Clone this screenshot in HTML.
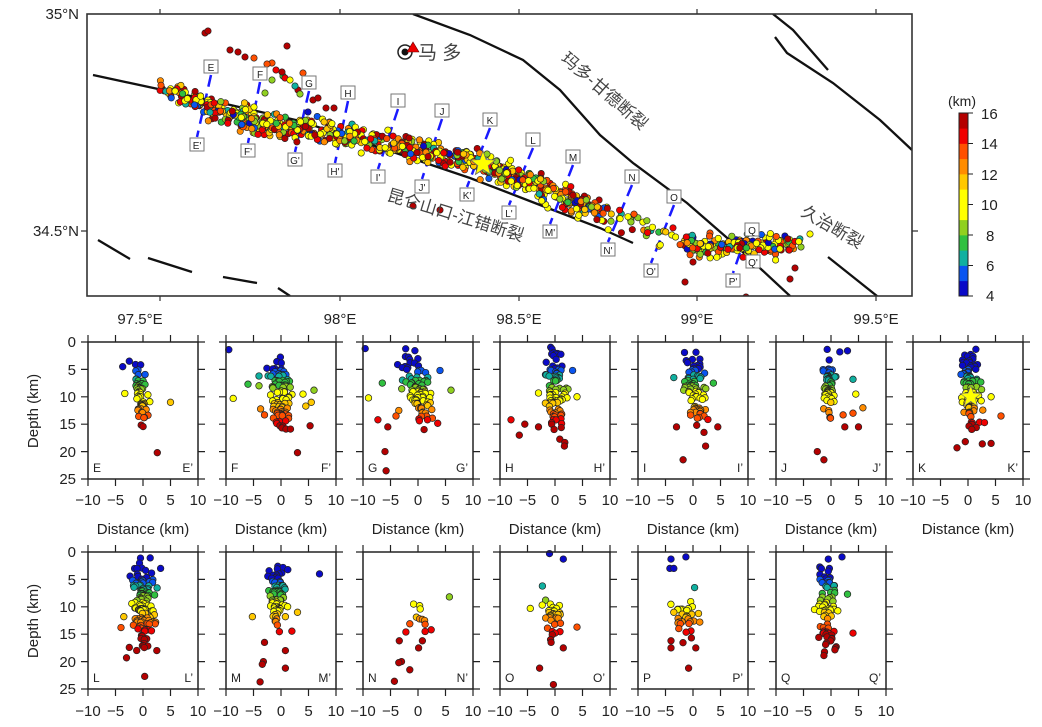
<!DOCTYPE html>
<html><head><meta charset="utf-8">
<style>
html,body{margin:0;padding:0;background:#fff;}
svg{display:block;}
text{font-family:"Liberation Sans","Noto Sans CJK SC",sans-serif;fill:#222;}
.tl{font-size:15px;}
.cn{font-size:17px;fill:#444;font-family:"Liberation Sans","Noto Sans CJK SC",sans-serif;}
.pl{font-size:12px;font-family:"Liberation Serif",serif;fill:#333;}
.bx{font-size:10px;fill:#555;}
</style></head>
<body>
<svg id="s" width="1042" height="727" viewBox="0 0 1042 727" xmlns="http://www.w3.org/2000/svg">
<defs><clipPath id="mapclip"><rect x="87" y="14" width="825" height="282"/></clipPath></defs>
<rect width="1042" height="727" fill="#fff"/>
<g id="map" clip-path="url(#mapclip)">
  <g fill="none" stroke="#111" stroke-width="2.3">
    <path d="M93,75 L200,98 L300,121 L390,151 L470,178 L540,205 L600,228 L633,243"/>
    <path d="M413,14 L470,35 L523,60 L560,90 L600,135 L633,163 L687,203 L733,243 L790,296"/>
    <path d="M773,14 L793,30 L828,70"/>
    <path d="M775,37 L787,53 L833,83 L880,120 L912,150"/>
    <path d="M828,257 L877,296"/>
    <path d="M98,240 L130,259 M148,258 L192,272 M223,277 L257,283 M278,288 L290,296"/>
  </g>
  <g id="profiles" stroke="#1a1aff" stroke-width="2.5" stroke-dasharray="12,7" fill="none"></g>
  <g id="mapdots"></g>
  <polygon id="bigstar" fill="#ffff00" stroke="#666" stroke-width="0.8"/>
  <g id="boxes" fill="#fff" stroke="#777" stroke-width="1"></g>
  <g class="bx" text-anchor="middle">
    <text x="211" y="71">E</text><text x="197" y="149">E'</text>
    <text x="260" y="78">F</text><text x="248" y="155">F'</text>
    <text x="309" y="87">G</text><text x="295" y="164">G'</text>
    <text x="348" y="97">H</text><text x="335" y="175">H'</text>
    <text x="398" y="105">I</text><text x="378" y="181">I'</text>
    <text x="442" y="115">J</text><text x="422" y="191">J'</text>
    <text x="490" y="124">K</text><text x="467" y="199">K'</text>
    <text x="533" y="144">L</text><text x="509" y="217">L'</text>
    <text x="573" y="161">M</text><text x="550" y="236">M'</text>
    <text x="632" y="181">N</text><text x="608" y="254">N'</text>
    <text x="674" y="201">O</text><text x="651" y="275">O'</text>
    <text x="752" y="234">Q</text><text x="753" y="266">Q'</text>
    <text x="733" y="285">P'</text>
  </g>
  <circle cx="405" cy="52" r="7" fill="#fff" stroke="#222" stroke-width="1.5"/>
  <circle cx="405" cy="52" r="3.5" fill="#111"/>
  <polygon points="413,42 419,52 407,52" fill="#e00" stroke="#600" stroke-width="0.6"/>
  <text class="cn" x="418" y="59" style="font-size:19px">马 多</text>
  <text class="cn" transform="translate(560,60) rotate(41)">玛多-甘德断裂</text>
  <text class="cn" transform="translate(386,200) rotate(17)">昆仑山口-江错断裂</text>
  <text class="cn" transform="translate(800,215) rotate(30)">久治断裂</text>
</g>
<rect x="87" y="14" width="825" height="282" fill="none" stroke="#333" stroke-width="1.6"/>
<g stroke="#333" stroke-width="1.2">
  <path d="M160,14 v-5 M340,14 v-5 M519,14 v-5 M697,14 v-5 M876,14 v-5"/>
  <path d="M160,296 v5 M340,296 v5 M519,296 v5 M697,296 v5 M876,296 v5"/>
  <path d="M87,231 h-6 M912,231 h6"/>
</g>
<g class="tl" text-anchor="middle">
  <text x="140" y="324">97.5°E</text><text x="340" y="324">98°E</text>
  <text x="519" y="324">98.5°E</text><text x="697" y="324">99°E</text><text x="876" y="324">99.5°E</text>
</g>
<g class="tl" text-anchor="end">
  <text x="79" y="19">35°N</text><text x="79" y="236">34.5°N</text>
</g>
<g id="cbar"></g>
<text class="tl" x="962" y="106" text-anchor="middle" style="font-size:14px">(km)</text>
<g class="tl" text-anchor="start">
  <text x="981" y="119">16</text><text x="981" y="149">14</text><text x="981" y="180">12</text>
  <text x="981" y="210">10</text><text x="986" y="241">8</text><text x="986" y="271">6</text><text x="986" y="301">4</text>
</g>

<g id="panels"></g>

<g class="tl" text-anchor="end">
  <text x="76" y="347">0</text><text x="76" y="375">5</text><text x="76" y="402">10</text>
  <text x="76" y="429">15</text><text x="76" y="457">20</text><text x="76" y="484">25</text>
  <text x="76" y="557">0</text><text x="76" y="585">5</text><text x="76" y="612">10</text>
  <text x="76" y="639">15</text><text x="76" y="667">20</text><text x="76" y="694">25</text>
</g>
<text class="tl" transform="translate(38,411) rotate(-90)" text-anchor="middle">Depth (km)</text>
<text class="tl" transform="translate(38,621) rotate(-90)" text-anchor="middle">Depth (km)</text>

<g class="tl" text-anchor="middle">
 <g transform="translate(88,0)"><text x="0" y="505">−10</text><text x="27.5" y="505">−5</text><text x="55" y="505">0</text><text x="82.5" y="505">5</text><text x="110" y="505">10</text><text x="55" y="534">Distance (km)</text></g>
 <g transform="translate(226,0)"><text x="0" y="505">−10</text><text x="27.5" y="505">−5</text><text x="55" y="505">0</text><text x="82.5" y="505">5</text><text x="110" y="505">10</text><text x="55" y="534">Distance (km)</text></g>
 <g transform="translate(363,0)"><text x="0" y="505">−10</text><text x="27.5" y="505">−5</text><text x="55" y="505">0</text><text x="82.5" y="505">5</text><text x="110" y="505">10</text><text x="55" y="534">Distance (km)</text></g>
 <g transform="translate(500,0)"><text x="0" y="505">−10</text><text x="27.5" y="505">−5</text><text x="55" y="505">0</text><text x="82.5" y="505">5</text><text x="110" y="505">10</text><text x="55" y="534">Distance (km)</text></g>
 <g transform="translate(638,0)"><text x="0" y="505">−10</text><text x="27.5" y="505">−5</text><text x="55" y="505">0</text><text x="82.5" y="505">5</text><text x="110" y="505">10</text><text x="55" y="534">Distance (km)</text></g>
 <g transform="translate(776,0)"><text x="0" y="505">−10</text><text x="27.5" y="505">−5</text><text x="55" y="505">0</text><text x="82.5" y="505">5</text><text x="110" y="505">10</text><text x="55" y="534">Distance (km)</text></g>
 <g transform="translate(913,0)"><text x="0" y="505">−10</text><text x="27.5" y="505">−5</text><text x="55" y="505">0</text><text x="82.5" y="505">5</text><text x="110" y="505">10</text><text x="55" y="534">Distance (km)</text></g>
 <g transform="translate(88,0)"><text x="0" y="716">−10</text><text x="27.5" y="716">−5</text><text x="55" y="716">0</text><text x="82.5" y="716">5</text><text x="110" y="716">10</text></g>
 <g transform="translate(226,0)"><text x="0" y="716">−10</text><text x="27.5" y="716">−5</text><text x="55" y="716">0</text><text x="82.5" y="716">5</text><text x="110" y="716">10</text></g>
 <g transform="translate(363,0)"><text x="0" y="716">−10</text><text x="27.5" y="716">−5</text><text x="55" y="716">0</text><text x="82.5" y="716">5</text><text x="110" y="716">10</text></g>
 <g transform="translate(500,0)"><text x="0" y="716">−10</text><text x="27.5" y="716">−5</text><text x="55" y="716">0</text><text x="82.5" y="716">5</text><text x="110" y="716">10</text></g>
 <g transform="translate(638,0)"><text x="0" y="716">−10</text><text x="27.5" y="716">−5</text><text x="55" y="716">0</text><text x="82.5" y="716">5</text><text x="110" y="716">10</text></g>
 <g transform="translate(776,0)"><text x="0" y="716">−10</text><text x="27.5" y="716">−5</text><text x="55" y="716">0</text><text x="82.5" y="716">5</text><text x="110" y="716">10</text></g>
</g>

<g class="pl">
 <text x="93" y="472">E</text><text x="193" y="472" text-anchor="end">E’</text>
 <text x="231" y="472">F</text><text x="331" y="472" text-anchor="end">F’</text>
 <text x="368" y="472">G</text><text x="468" y="472" text-anchor="end">G’</text>
 <text x="505" y="472">H</text><text x="605" y="472" text-anchor="end">H’</text>
 <text x="643" y="472">I</text><text x="743" y="472" text-anchor="end">I’</text>
 <text x="781" y="472">J</text><text x="881" y="472" text-anchor="end">J’</text>
 <text x="918" y="472">K</text><text x="1018" y="472" text-anchor="end">K’</text>
 <text x="93" y="682">L</text><text x="193" y="682" text-anchor="end">L’</text>
 <text x="231" y="682">M</text><text x="331" y="682" text-anchor="end">M’</text>
 <text x="368" y="682">N</text><text x="468" y="682" text-anchor="end">N’</text>
 <text x="505" y="682">O</text><text x="605" y="682" text-anchor="end">O’</text>
 <text x="643" y="682">P</text><text x="743" y="682" text-anchor="end">P’</text>
 <text x="781" y="682">Q</text><text x="881" y="682" text-anchor="end">Q’</text>
</g>
</svg>
<script>
(function(){
var NS="http://www.w3.org/2000/svg";
function el(t,a,p){var e=document.createElementNS(NS,t);for(var k in a)e.setAttribute(k,a[k]);p.appendChild(e);return e;}
var seed=12345;function rnd(){seed|=0;seed=seed+0x6D2B79F5|0;var t=Math.imul(seed^seed>>>15,1|seed);t=t+Math.imul(t^t>>>7,61|t)^t;return((t^t>>>14)>>>0)/4294967296;}
function gau(){return (rnd()+rnd()+rnd()+rnd()-2)*1.7;}
var pal=["#0a0ac8","#0a55f0","#10b0a0","#30c040","#90d020","#ffff00","#ffff00","#ffc800","#ff8c00","#ff5000","#f00000","#b40000"];
function col(d){var i=Math.floor(d-4);if(i<0)i=0;if(i>11)i=11;return pal[i];}
var cb=document.getElementById("cbar");
for(var i=0;i<12;i++){el("rect",{x:959,y:(296-(i+1)*15.25).toFixed(2),width:9,height:15.6,fill:pal[i]},cb);}
el("rect",{x:959,y:113,width:9,height:183,fill:"none",stroke:"#222","stroke-width":1},cb);
for(var v=4;v<=16;v+=2){var y=296-(v-4)*15.25;el("line",{x1:968,x2:973,y1:y,y2:y,stroke:"#222"},cb);}
var prof=[[211,67,197,145],[260,74,248,151],[309,83,295,160],[348,93,335,171],[398,101,378,177],[442,111,422,187],[490,120,467,195],[533,140,509,213],[573,157,550,232],[632,177,608,250],[674,197,651,271],[752,230,753,262],[740,245,733,281]];
var pg=document.getElementById("profiles"),bg=document.getElementById("boxes");
prof.forEach(function(p){el("line",{x1:p[0],y1:p[1]+8,x2:p[2],y2:p[3]-8},pg);});
[[211,67],[197,145],[260,74],[248,151],[309,83],[295,160],[348,93],[335,171],[398,101],[378,177],[442,111],[422,187],[490,120],[467,195],[533,140],[509,213],[573,157],[550,232],[632,177],[608,250],[674,197],[651,271],[752,230],[753,262],[733,281]].forEach(function(b){el("rect",{x:b[0]-7,y:b[1]-7,width:14,height:13},bg);});
var md=document.getElementById("mapdots");
var cl=[[150,82],[162,86],[215,110],[290,127],[370,140],[450,156],[483,165],[520,178],[560,195],[600,210],[640,222],[670,238],[700,248],[740,246],[800,243]];
function cy(x){for(var i=0;i<cl.length-1;i++){if(x<=cl[i+1][0]){var f=(x-cl[i][0])/(cl[i+1][0]-cl[i][0]);return cl[i][1]+f*(cl[i+1][1]-cl[i][1]);}}return 243;}
function mdepth(){var r=rnd();if(r<0.6)return 10+rnd()*6.5;if(r<0.85)return 8+rnd()*3;return 4+rnd()*4;}
var segs=[[160,240,110,6],[240,340,190,8],[340,460,200,7],[460,530,140,7],[530,600,120,8],[600,680,40,8],[680,800,170,6]];
var pts=[];
segs.forEach(function(s){for(var i=0;i<s[2];i++){var x=s[0]+rnd()*(s[1]-s[0]);pts.push([x,cy(x)+gau()*s[3]*0.85,mdepth()]);}});
[[205,33,15.5],[208,31,15.5],[230,50,15.5],[238,52,15.5],[245,57,15.5],[254,58,13],[287,46,15.5],[267,64,13],[272,63,13],[276,70,14],[282,72,15],[285,78,14],[290,80,9],[295,86,6],[272,80,8],[283,76,7],[303,73,13],[298,90,15],[313,100,15],[318,98,15],[300,94,8],[265,93,8],[254,107,10],[326,108,15],[334,108,15],[322,130,15],[413,206,15.5],[440,210,15.5],[710,233,13],[790,279,15.5],[795,268,15],[746,297,15],[685,282,15.5],[810,234,10],[801,247,8],[693,262,15]].forEach(function(p){pts.push(p);});
for(var i=pts.length-1;i>0;i--){var j=Math.floor(rnd()*(i+1));var t=pts[i];pts[i]=pts[j];pts[j]=t;}
pts.forEach(function(p){el("circle",{cx:p[0].toFixed(1),cy:p[1].toFixed(1),r:3.2,fill:col(p[2]),stroke:"#222","stroke-width":0.6},md);});
function star(cx,cy,R){var s="";for(var i=0;i<10;i++){var r=i%2?R*0.42:R;var a=-Math.PI/2+i*Math.PI/5;s+=(cx+r*Math.cos(a)).toFixed(1)+","+(cy+r*Math.sin(a)).toFixed(1)+" ";}return s;}
document.getElementById("bigstar").setAttribute("points",star(483,164,13));
var lefts=[88,226,363,500,638,776,913];
var P=[
 [0,0,60,-0.5,0.12,0.8,3.5,16,[[-3.3,9.4],[5,11],[2.6,20.2],[-3.7,4.5],[-2.5,3.5]]],
 [1,0,90,0,0.12,1.5,2,18,[[-9.5,1.4],[-8.7,10.3],[-6,7.7],[-4,6.2],[-4,8],[-3.7,12.2],[-3,13.3],[4,9.5],[6,8.8],[5.3,15.3],[3,20.2],[4.5,11.7],[5.5,11]]],
 [2,0,90,0.5,0.2,1.8,1,17,[[-9.6,1.2],[-9,10.2],[-6.5,7.5],[-7.3,14.2],[-5.5,15.5],[-6,20],[-5.8,23.5],[4,5.2],[6,8.8],[-4,13.5],[-3.5,12.5]]],
 [3,0,90,0,0.05,1.3,0.5,19,[[-8,14.2],[-6.5,17],[-5.5,15],[-3,15.5],[3.2,5.2],[4,10],[-3,9.3],[1.7,19]]],
 [4,0,80,0.5,0.05,1.3,1,16,[[-3,15.5],[-1.8,21.5],[2.3,19],[4.5,15.5],[2,16.5],[-3.5,6.5],[3.7,7.5]]],
 [5,0,60,-0.3,0.02,0.8,1,17,[[4,6.8],[4.5,9.5],[5.8,12],[5,15.5],[2.5,15.5],[-2.5,20],[-1.3,21.5],[3,1.6],[1.6,1.8],[2.2,13.3],[4,13]]],
 [6,0,100,0.5,0.03,1.2,1,18,[[-1,3.3],[4.2,10],[6,13.5],[4.2,18.5],[2.6,18.6],[-2,19.3],[-0.5,18.2],[3,14.7]]],
 [0,1,130,0,0,1.6,0.5,19,[[0.3,22.7],[-3,19.3],[3.2,3],[-4,13.8],[-3.5,11.8],[2.5,18]]],
 [1,1,80,-0.5,0.02,1.2,0.5,16,[[7,4],[-5.2,11.8],[-3.8,23.7],[-3.4,20.5],[-3,16.5],[0.8,21.2],[0.8,18],[3,11],[-3.2,20]]],
 [2,1,0,0,0,0,0,0,[[-0.8,9.5],[0.3,9.8],[0.4,10.4],[5.7,8.2],[-0.3,11.9],[0.3,12.2],[0.8,12.3],[1.2,12.5],[-1.5,13.1],[1.3,13.2],[-2.2,14.6],[1.3,14.5],[2.4,14.2],[-3.4,16.2],[0.8,16.2],[0.1,17.5],[-3.5,20.2],[-3,20],[-1.5,21.5],[-4.3,23.6]]],
 [3,1,30,-0.5,0.1,1.3,8,16,[[-1,0.3],[1.5,1.3],[-2.3,6.2],[-4.5,10.3],[4,13.7],[-2.8,21.2],[-0.3,24.2],[-0.8,16],[-0.7,16.5],[1.5,17.5]]],
 [4,1,30,-1.5,0,1.8,8,17,[[-4,1.3],[-1.3,0.9],[-4.2,3],[-3.5,3],[-4,16.2],[-4,17.5],[0.5,17.5],[-0.8,21.2],[0.3,6.5],[-3.5,11]]],
 [5,1,70,-0.5,0.02,1.3,2,19,[[-0.5,1.3],[2,0.9],[-1.8,3],[-0.3,3],[-2,5],[-1.6,5.6],[-0.5,5.6],[3,7.7],[4,14.8],[0.8,17.5],[-1.3,18.9],[-3,10.5]]]
];
var pgp=document.getElementById("panels");
P.forEach(function(c){
 var L=lefts[c[0]],T=c[1]?552:342;
 var g=el("g",{},pgp);
 var arr=[];
 for(var i=0;i<c[2];i++){var d=c[6]+(c[7]-c[6])*(rnd()+rnd())/2;var x=c[3]+c[4]*(d-10)+gau()*c[5]*0.7;arr.push([x,d]);}
 c[8].forEach(function(p){arr.push(p);});
 arr.sort(function(a,b){return a[1]-b[1];});
 arr.forEach(function(p){var px=L+(p[0]+10)*5.5,py=T+p[1]*5.48;if(px<L+2||px>L+108||py<T+1||py>T+136)return;
  el("circle",{cx:px.toFixed(1),cy:py.toFixed(1),r:3.3,fill:col(p[1]),stroke:"#222","stroke-width":0.7},g);});
 if(c[0]==6&&c[1]==0){el("polygon",{points:star(L+10.5*5.5,T+10*5.48,11),fill:"#ffff00",stroke:"#777","stroke-width":0.6},g);}
 el("rect",{x:L,y:T,width:110,height:137,fill:"none",stroke:"#222","stroke-width":1.5},g);
 var tk="";for(var k=0;k<5;k++){var x=L+k*27.5;tk+="M"+x+","+T+"v-7M"+x+","+(T+137)+"v7";}
 for(var k=0;k<6;k++){var y=T+k*27.4;tk+="M"+L+","+y+"h-7M"+(L+110)+","+y+"h7";}
 el("path",{d:tk,stroke:"#222","stroke-width":1.2,fill:"none"},g);
});
})();
</script>
</body></html>
